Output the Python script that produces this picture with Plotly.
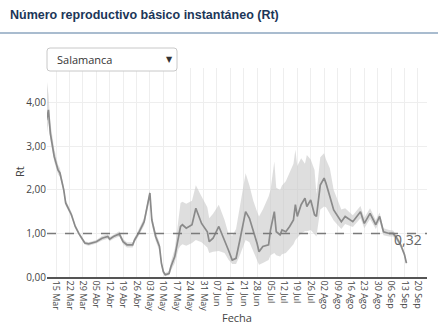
import plotly.graph_objects as go

# ---- data ----
dates = ["2020-03-10","2020-03-11","2020-03-12","2020-03-14","2020-03-16","2020-03-17","2020-03-19","2020-03-20",
         "2020-03-23","2020-03-25","2020-03-27","2020-03-30","2020-04-01","2020-04-05","2020-04-08","2020-04-11",
         "2020-04-12","2020-04-14","2020-04-17","2020-04-19","2020-04-21","2020-04-24","2020-04-25","2020-04-27",
         "2020-04-30","2020-05-01","2020-05-03","2020-05-04","2020-05-06","2020-05-08","2020-05-09","2020-05-10",
         "2020-05-11","2020-05-13","2020-05-14","2020-05-16","2020-05-18","2020-05-19","2020-05-20","2020-05-22",
         "2020-05-25","2020-05-27","2020-05-30","2020-06-02","2020-06-03","2020-06-05","2020-06-08","2020-06-11",
         "2020-06-13","2020-06-15","2020-06-17","2020-06-19","2020-06-21","2020-06-22","2020-06-24","2020-06-26",
         "2020-06-28","2020-06-29","2020-07-01","2020-07-04","2020-07-05","2020-07-07","2020-07-08","2020-07-10",
         "2020-07-11","2020-07-13","2020-07-15","2020-07-17","2020-07-18","2020-07-19","2020-07-21","2020-07-23",
         "2020-07-24","2020-07-26","2020-07-28","2020-07-29","2020-07-31","2020-08-02","2020-08-03","2020-08-05",
         "2020-08-07","2020-08-11","2020-08-13","2020-08-17","2020-08-21","2020-08-23","2020-08-26","2020-08-29",
         "2020-08-31","2020-09-02","2020-09-05","2020-09-07","2020-09-09","2020-09-11","2020-09-13","2020-09-14"]

rt = [3.60,3.84,3.30,2.77,2.46,2.39,2.00,1.70,
      1.43,1.16,0.99,0.78,0.76,0.81,0.89,0.93,
      0.87,0.93,0.99,0.81,0.74,0.74,0.85,1.00,
      1.27,1.47,1.93,1.31,0.93,0.70,0.32,0.12,
      0.05,0.08,0.24,0.47,0.93,1.16,1.20,1.12,
      1.20,1.58,1.23,1.04,0.81,0.89,1.16,0.85,
      0.62,0.39,0.43,0.85,1.31,1.50,1.35,1.08,
      0.77,0.58,0.70,0.74,1.08,1.50,1.04,0.97,
      1.08,1.04,1.16,1.31,1.66,1.39,1.66,1.81,
      1.62,1.77,1.43,1.39,2.11,2.27,2.15,1.85,
      1.54,1.27,1.39,1.27,1.50,1.23,1.46,1.20,
      1.39,1.04,1.00,1.00,0.89,0.74,0.51,0.32]

rt_low = [3.25,3.55,3.15,2.65,2.36,2.30,1.93,1.64,
          1.38,1.12,0.95,0.74,0.72,0.77,0.84,0.88,
          0.82,0.88,0.93,0.75,0.68,0.68,0.79,0.93,
          1.18,1.37,1.80,1.20,0.83,0.60,0.25,0.07,
          0.02,0.04,0.15,0.32,0.65,0.72,0.75,0.72,
          0.78,0.85,0.80,0.68,0.55,0.58,0.60,0.55,
          0.40,0.30,0.30,0.50,0.75,0.85,0.80,0.60,
          0.38,0.28,0.32,0.39,0.50,0.55,0.50,0.47,
          0.52,0.55,0.65,0.75,0.85,0.90,1.00,1.05,
          1.05,1.08,0.98,0.93,1.55,1.62,1.60,1.45,
          1.30,1.10,1.22,1.15,1.35,1.12,1.33,1.10,
          1.28,0.96,0.93,0.93,0.82,0.68,0.46,0.28]

rt_high = [4.57,4.20,3.55,2.95,2.58,2.50,2.08,1.77,
           1.49,1.21,1.03,0.82,0.80,0.85,0.94,0.98,
           0.92,0.98,1.05,0.87,0.80,0.80,0.91,1.08,
           1.36,1.58,1.98,1.42,1.03,0.80,0.40,0.18,
           0.09,0.14,0.35,0.65,1.40,1.70,1.73,1.68,
           1.75,2.11,1.85,1.60,1.35,1.45,1.66,1.31,
           1.00,0.95,1.10,1.60,2.10,2.38,2.10,1.75,
           1.50,1.39,1.55,1.85,2.00,2.65,2.05,2.00,
           2.10,2.20,2.40,2.60,2.92,2.55,2.73,2.60,
           2.80,2.70,2.46,1.90,2.75,2.84,2.70,2.50,
           2.00,1.55,1.58,1.42,1.63,1.36,1.58,1.31,
           1.48,1.12,1.08,1.07,0.96,0.80,0.57,0.36]

tick_vals = ["2020-03-15","2020-03-22","2020-03-29","2020-04-05","2020-04-12","2020-04-19","2020-04-26",
             "2020-05-03","2020-05-10","2020-05-17","2020-05-24","2020-05-31","2020-06-07","2020-06-14",
             "2020-06-21","2020-06-28","2020-07-05","2020-07-12","2020-07-19","2020-07-26","2020-08-02",
             "2020-08-09","2020-08-16","2020-08-23","2020-08-30","2020-09-06","2020-09-13","2020-09-20"]
tick_text = ["15 Mar","22 Mar","29 Mar","05 Abr","12 Abr","19 Abr","26 Abr",
             "03 May","10 May","17 May","24 May","31 May","07 Jun","14 Jun",
             "21 Jun","28 Jun","05 Jul","12 Jul","19 Jul","26 Jul","02 Ago",
             "09 Ago","16 Ago","23 Ago","30 Ago","06 Sep","13 Sep","20 Sep"]

title_text = "Número reproductivo básico instantáneo (Rt)"
province = "Salamanca"
threshold = 1.0

# ---- figure ----
W, H = 446, 335
L, R, T, B = 47, 19, 68, 58
pw, ph = W - L - R, H - T - B

def px(x):
    return (x - L) / pw

def py(y):
    return (H - B - y) / ph

fig = go.Figure()
fig.add_trace(go.Scatter(x=dates, y=rt_low, mode="lines", line=dict(width=0, color="rgba(0,0,0,0)"),
                         hoverinfo="skip", showlegend=False))
fig.add_trace(go.Scatter(x=dates, y=rt_high, mode="lines", line=dict(width=0, color="rgba(0,0,0,0)"),
                         fill="tonexty", fillcolor="rgba(200,200,200,0.6)", hoverinfo="skip", showlegend=False))
fig.add_trace(go.Scatter(x=dates, y=rt, mode="lines", line=dict(width=1.7, color="#8a8a8a"),
                         showlegend=False, name="Rt"))

fig.add_shape(type="line", xref="paper", yref="y", x0=0, x1=1, y0=threshold, y1=threshold,
              line=dict(color="#7a7a7a", width=1.6, dash="dash"), layer="above")

# header line
fig.add_shape(type="line", xref="paper", yref="paper", x0=px(0), x1=px(438), y0=py(33), y1=py(33),
              line=dict(color="#a9bccf", width=2))

# dropdown box with rounded corners
bx0, bx1, by0, by1, rr = 47, 177, 48, 71, 3
path = (f"M {px(bx0+rr)} {py(by0)} L {px(bx1-rr)} {py(by0)} Q {px(bx1)} {py(by0)} {px(bx1)} {py(by0+rr)} "
        f"L {px(bx1)} {py(by1-rr)} Q {px(bx1)} {py(by1)} {px(bx1-rr)} {py(by1)} "
        f"L {px(bx0+rr)} {py(by1)} Q {px(bx0)} {py(by1)} {px(bx0)} {py(by1-rr)} "
        f"L {px(bx0)} {py(by0+rr)} Q {px(bx0)} {py(by0)} {px(bx0+rr)} {py(by0)} Z")
fig.add_shape(type="path", xref="paper", yref="paper", path=path,
              line=dict(color="#c8c8c8", width=1), fillcolor="white", layer="above")

fig.add_annotation(text="<b>" + title_text + "</b>", xref="paper", yref="paper", x=px(8), y=py(15),
                   xanchor="left", yanchor="middle", showarrow=False,
                   font=dict(family="Liberation Sans, Arial", size=12.5, color="#1b3658"))
fig.add_annotation(text=province, xref="paper", yref="paper", x=px(55), y=py(59.5),
                   xanchor="left", yanchor="middle", showarrow=False,
                   font=dict(family="Open Sans", size=11, color="#333333"))
fig.add_annotation(text="▼", xref="paper", yref="paper", x=px(169), y=py(59.5),
                   xanchor="center", yanchor="middle", showarrow=False,
                   font=dict(family="DejaVu Sans", size=8, color="#333333"))
fig.add_annotation(text="Rt", xref="paper", yref="paper", x=px(19), y=py(172),
                   xanchor="center", yanchor="middle", showarrow=False, textangle=-90,
                   font=dict(family="Open Sans", size=11, color="#444444"))
fig.add_annotation(text=f"{rt[-1]:.2f}".replace(".", ","), x=dates[-1], y=rt[-1], xref="x", yref="y",
                   showarrow=False, yshift=24, xshift=2,
                   font=dict(family="Open Sans", size=14, color="#666666"))

fig.update_layout(
    width=W, height=H, margin=dict(l=L, r=R, t=T, b=B, pad=0),
    paper_bgcolor="white", plot_bgcolor="white",
    font=dict(family="Open Sans", color="#444444"),
    separators=",.",
    showlegend=False,
    xaxis=dict(range=["2020-03-10 06:00", "2020-09-24 18:00"], tickvals=tick_vals, ticktext=tick_text,
               tickangle=90, tickfont=dict(size=9, color="#444444"), showgrid=True, gridcolor="#eeeeee",
               gridwidth=1, showline=True, linecolor="#555555", linewidth=1.5, zeroline=False,
               ticks="", title=dict(text="Fecha", font=dict(size=11, color="#444444"), standoff=4)),
    yaxis=dict(range=[0, 4.8], tickvals=[0, 1, 2, 3, 4], tickformat=".2f",
               tickfont=dict(size=10, color="#444444"), showgrid=True, gridcolor="#eeeeee", gridwidth=1,
               zeroline=False, showline=False, ticks=""),
)

fig.write_html("out.html", config={"displayModeBar": False})
